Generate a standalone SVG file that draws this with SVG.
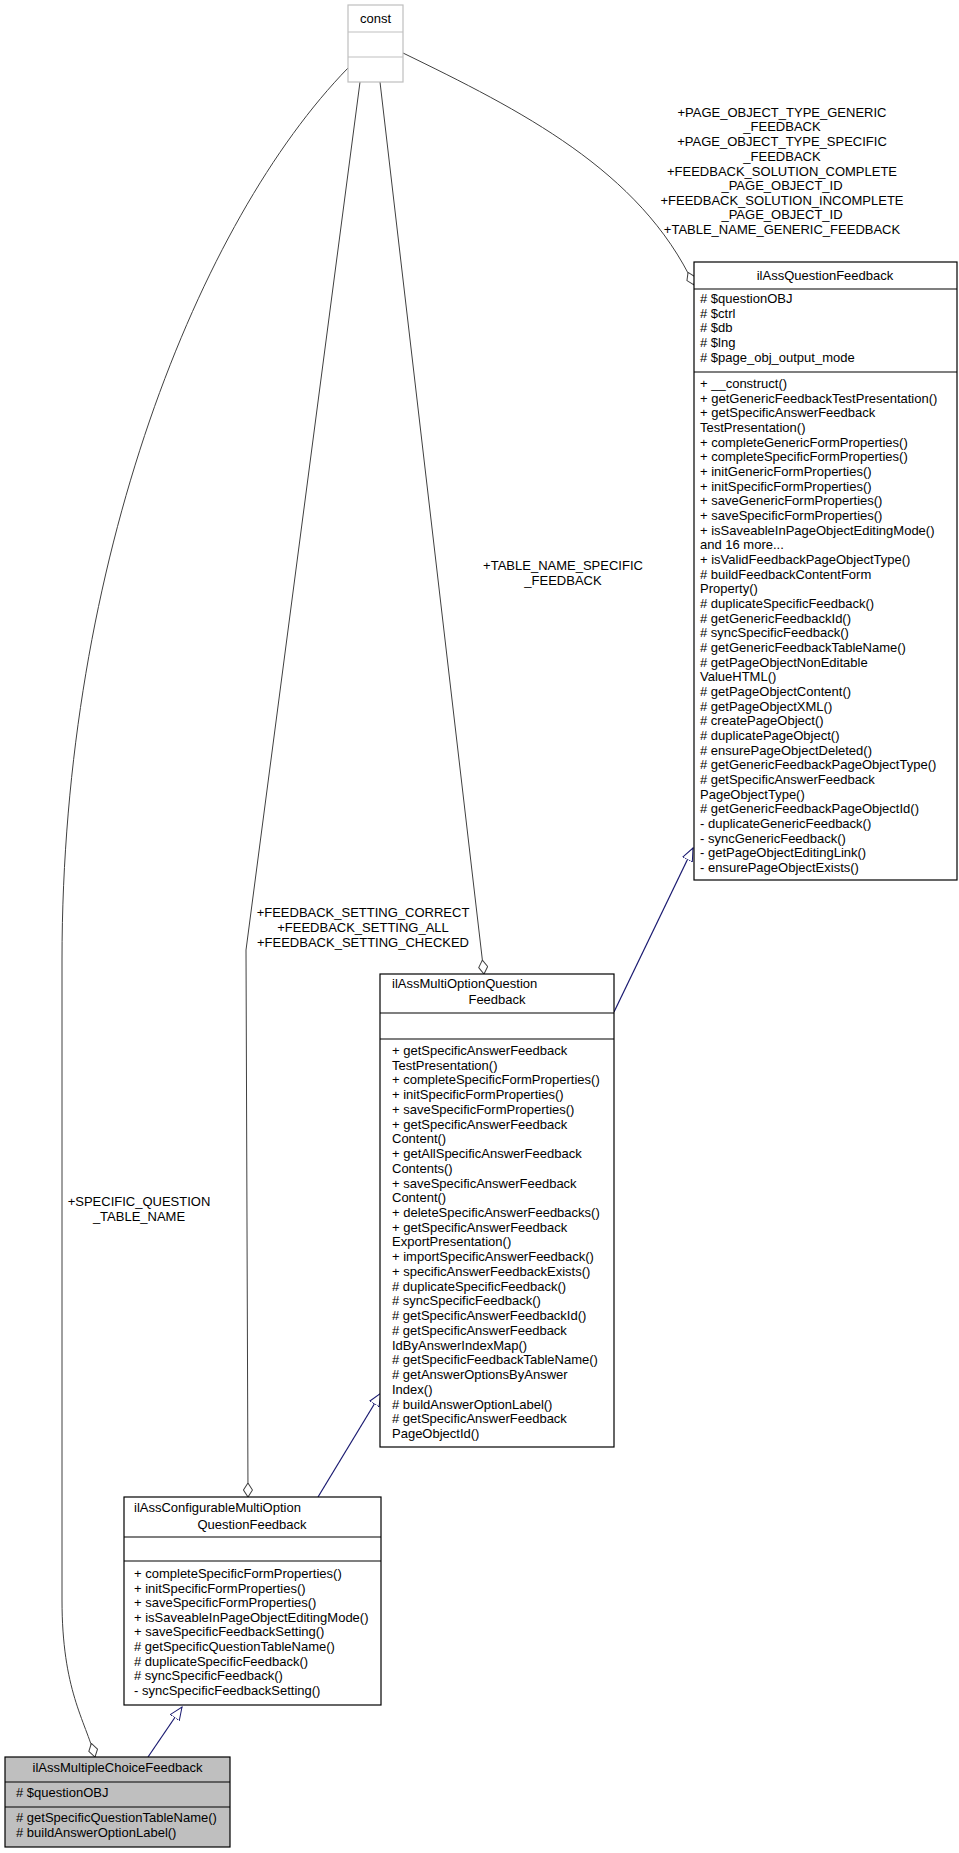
<svg xmlns="http://www.w3.org/2000/svg" width="959" height="1853" viewBox="0 0 959 1853">
<style>
text{font-family:"Liberation Sans",Arial,sans-serif;font-size:13px;fill:#000}
.m{text-anchor:middle}
.box{fill:#fff;stroke:#000;stroke-width:1.2}
.gray{fill:#bfbfbf;stroke:#000;stroke-width:1.2}
.cb{fill:#fff;stroke:#bfbfbf;stroke-width:1.2}
.sep{stroke:#000;stroke-width:1.2}
.agg{fill:none;stroke:#404040;stroke-width:1}
.inh{fill:none;stroke:#191970;stroke-width:1.2}
</style>
<defs>
<marker id="dia" markerUnits="userSpaceOnUse" markerWidth="16" markerHeight="10" refX="14" refY="5" orient="auto"><path d="M0,5 L7,0.5 L14,5 L7,9.5 Z" fill="#fff" stroke="#404040"/></marker>
<marker id="tri" markerUnits="userSpaceOnUse" markerWidth="14" markerHeight="12" refX="13" refY="6" orient="auto"><path d="M0,0.5 L13,6 L0,11.5 Z" fill="#fff" stroke="#191970"/></marker>
</defs>
<g id="connectors">
<path class="agg" d="M348,68 C200,220 62,560 62,960 L62,1600 C62,1690 85,1720 95,1757" marker-end="url(#dia)"/>
<path class="agg" d="M360,82 L246,950 L248,1497" marker-end="url(#dia)"/>
<path class="agg" d="M380,82 L484,974" marker-end="url(#dia)"/>
<path class="agg" d="M403,53 C520,110 640,170 694,285" marker-end="url(#dia)"/>
<path class="inh" d="M614,1012 L693,848" marker-end="url(#tri)"/>
<path class="inh" d="M318,1497 L381,1393" marker-end="url(#tri)"/>
<path class="inh" d="M148,1757 L182,1707" marker-end="url(#tri)"/>
<text class="m" x="139" y="1206">+SPECIFIC_QUESTION</text>
<text class="m" x="139" y="1221">_TABLE_NAME</text>
<text class="m" x="363" y="917">+FEEDBACK_SETTING_CORRECT</text>
<text class="m" x="363" y="932">+FEEDBACK_SETTING_ALL</text>
<text class="m" x="363" y="947">+FEEDBACK_SETTING_CHECKED</text>
<text class="m" x="563" y="570">+TABLE_NAME_SPECIFIC</text>
<text class="m" x="563" y="585">_FEEDBACK</text>
<text class="m" x="782" y="117">+PAGE_OBJECT_TYPE_GENERIC</text>
<text class="m" x="782" y="131">_FEEDBACK</text>
<text class="m" x="782" y="146">+PAGE_OBJECT_TYPE_SPECIFIC</text>
<text class="m" x="782" y="161">_FEEDBACK</text>
<text class="m" x="782" y="176">+FEEDBACK_SOLUTION_COMPLETE</text>
<text class="m" x="782" y="190">_PAGE_OBJECT_ID</text>
<text class="m" x="782" y="205">+FEEDBACK_SOLUTION_INCOMPLETE</text>
<text class="m" x="782" y="219">_PAGE_OBJECT_ID</text>
<text class="m" x="782" y="234">+TABLE_NAME_GENERIC_FEEDBACK</text>
</g>
<g id="const">
<rect class="cb" x="348" y="5" width="55" height="77"/>
<line x1="348" y1="32" x2="403" y2="32" stroke="#bfbfbf" stroke-width="1.2"/>
<line x1="348" y1="57" x2="403" y2="57" stroke="#bfbfbf" stroke-width="1.2"/>
<text class="m" x="375.5" y="23">const</text>
</g>
<g id="ilAssQuestionFeedback">
<rect class="box" x="694" y="262" width="263" height="618"/>
<line class="sep" x1="694" y1="289" x2="957" y2="289"/>
<line class="sep" x1="694" y1="372" x2="957" y2="372"/>
<text class="m" x="825" y="280">ilAssQuestionFeedback</text>
<text x="700"><tspan x="700" y="303"># $questionOBJ</tspan><tspan x="700" dy="14.67"># $ctrl</tspan><tspan x="700" dy="14.67"># $db</tspan><tspan x="700" dy="14.67"># $lng</tspan><tspan x="700" dy="14.67"># $page_obj_output_mode</tspan></text>
<text x="700"><tspan x="700" y="388">+ __construct()</tspan><tspan x="700" dy="14.67">+ getGenericFeedbackTestPresentation()</tspan><tspan x="700" dy="14.67">+ getSpecificAnswerFeedback</tspan><tspan x="700" dy="14.67">TestPresentation()</tspan><tspan x="700" dy="14.67">+ completeGenericFormProperties()</tspan><tspan x="700" dy="14.67">+ completeSpecificFormProperties()</tspan><tspan x="700" dy="14.67">+ initGenericFormProperties()</tspan><tspan x="700" dy="14.67">+ initSpecificFormProperties()</tspan><tspan x="700" dy="14.67">+ saveGenericFormProperties()</tspan><tspan x="700" dy="14.67">+ saveSpecificFormProperties()</tspan><tspan x="700" dy="14.67">+ isSaveableInPageObjectEditingMode()</tspan><tspan x="700" dy="14.67">and 16 more...</tspan><tspan x="700" dy="14.67">+ isValidFeedbackPageObjectType()</tspan><tspan x="700" dy="14.67"># buildFeedbackContentForm</tspan><tspan x="700" dy="14.67">Property()</tspan><tspan x="700" dy="14.67"># duplicateSpecificFeedback()</tspan><tspan x="700" dy="14.67"># getGenericFeedbackId()</tspan><tspan x="700" dy="14.67"># syncSpecificFeedback()</tspan><tspan x="700" dy="14.67"># getGenericFeedbackTableName()</tspan><tspan x="700" dy="14.67"># getPageObjectNonEditable</tspan><tspan x="700" dy="14.67">ValueHTML()</tspan><tspan x="700" dy="14.67"># getPageObjectContent()</tspan><tspan x="700" dy="14.67"># getPageObjectXML()</tspan><tspan x="700" dy="14.67"># createPageObject()</tspan><tspan x="700" dy="14.67"># duplicatePageObject()</tspan><tspan x="700" dy="14.67"># ensurePageObjectDeleted()</tspan><tspan x="700" dy="14.67"># getGenericFeedbackPageObjectType()</tspan><tspan x="700" dy="14.67"># getSpecificAnswerFeedback</tspan><tspan x="700" dy="14.67">PageObjectType()</tspan><tspan x="700" dy="14.67"># getGenericFeedbackPageObjectId()</tspan><tspan x="700" dy="14.67">- duplicateGenericFeedback()</tspan><tspan x="700" dy="14.67">- syncGenericFeedback()</tspan><tspan x="700" dy="14.67">- getPageObjectEditingLink()</tspan><tspan x="700" dy="14.67">- ensurePageObjectExists()</tspan></text>
</g>
<g id="ilAssMultiOptionQuestionFeedback">
<rect class="box" x="380" y="974" width="234" height="473"/>
<line class="sep" x1="380" y1="1013" x2="614" y2="1013"/>
<line class="sep" x1="380" y1="1039" x2="614" y2="1039"/>
<text x="392" y="988">ilAssMultiOptionQuestion</text>
<text class="m" x="497" y="1004">Feedback</text>
<text x="392"><tspan x="392" y="1055">+ getSpecificAnswerFeedback</tspan><tspan x="392" dy="14.73">TestPresentation()</tspan><tspan x="392" dy="14.73">+ completeSpecificFormProperties()</tspan><tspan x="392" dy="14.73">+ initSpecificFormProperties()</tspan><tspan x="392" dy="14.73">+ saveSpecificFormProperties()</tspan><tspan x="392" dy="14.73">+ getSpecificAnswerFeedback</tspan><tspan x="392" dy="14.73">Content()</tspan><tspan x="392" dy="14.73">+ getAllSpecificAnswerFeedback</tspan><tspan x="392" dy="14.73">Contents()</tspan><tspan x="392" dy="14.73">+ saveSpecificAnswerFeedback</tspan><tspan x="392" dy="14.73">Content()</tspan><tspan x="392" dy="14.73">+ deleteSpecificAnswerFeedbacks()</tspan><tspan x="392" dy="14.73">+ getSpecificAnswerFeedback</tspan><tspan x="392" dy="14.73">ExportPresentation()</tspan><tspan x="392" dy="14.73">+ importSpecificAnswerFeedback()</tspan><tspan x="392" dy="14.73">+ specificAnswerFeedbackExists()</tspan><tspan x="392" dy="14.73"># duplicateSpecificFeedback()</tspan><tspan x="392" dy="14.73"># syncSpecificFeedback()</tspan><tspan x="392" dy="14.73"># getSpecificAnswerFeedbackId()</tspan><tspan x="392" dy="14.73"># getSpecificAnswerFeedback</tspan><tspan x="392" dy="14.73">IdByAnswerIndexMap()</tspan><tspan x="392" dy="14.73"># getSpecificFeedbackTableName()</tspan><tspan x="392" dy="14.73"># getAnswerOptionsByAnswer</tspan><tspan x="392" dy="14.73">Index()</tspan><tspan x="392" dy="14.73"># buildAnswerOptionLabel()</tspan><tspan x="392" dy="14.73"># getSpecificAnswerFeedback</tspan><tspan x="392" dy="14.73">PageObjectId()</tspan></text>
</g>
<g id="ilAssConfigurableMultiOptionQuestionFeedback">
<rect class="box" x="124" y="1497" width="257" height="208"/>
<line class="sep" x1="124" y1="1537" x2="381" y2="1537"/>
<line class="sep" x1="124" y1="1561" x2="381" y2="1561"/>
<text x="134" y="1512">ilAssConfigurableMultiOption</text>
<text class="m" x="252" y="1529">QuestionFeedback</text>
<text x="134"><tspan x="134" y="1578">+ completeSpecificFormProperties()</tspan><tspan x="134" dy="14.6">+ initSpecificFormProperties()</tspan><tspan x="134" dy="14.6">+ saveSpecificFormProperties()</tspan><tspan x="134" dy="14.6">+ isSaveableInPageObjectEditingMode()</tspan><tspan x="134" dy="14.6">+ saveSpecificFeedbackSetting()</tspan><tspan x="134" dy="14.6"># getSpecificQuestionTableName()</tspan><tspan x="134" dy="14.6"># duplicateSpecificFeedback()</tspan><tspan x="134" dy="14.6"># syncSpecificFeedback()</tspan><tspan x="134" dy="14.6">- syncSpecificFeedbackSetting()</tspan></text>
</g>
<g id="ilAssMultipleChoiceFeedback">
<rect class="gray" x="5" y="1757" width="225" height="90"/>
<line class="sep" x1="5" y1="1782" x2="230" y2="1782"/>
<line class="sep" x1="5" y1="1807" x2="230" y2="1807"/>
<text class="m" x="117.5" y="1772">ilAssMultipleChoiceFeedback</text>
<text x="16" y="1797"># $questionOBJ</text>
<text x="16" y="1822"># getSpecificQuestionTableName()</text>
<text x="16" y="1837"># buildAnswerOptionLabel()</text>
</g>
</svg>
